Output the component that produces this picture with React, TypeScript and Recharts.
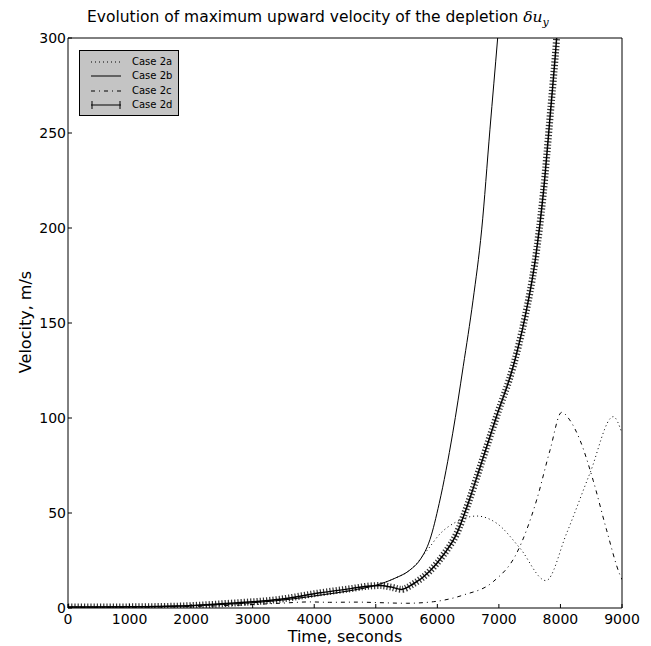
import React from 'react';
import { LineChart, Line, XAxis, YAxis } from 'recharts';

const FONT = '"DejaVu Sans", "Liberation Sans", sans-serif';

const xTicks = [0, 1000, 2000, 3000, 4000, 5000, 6000, 7000, 8000, 9000];
const yTicks = [0, 50, 100, 150, 200, 250, 300];

const seriesNames = ['Case 2a', 'Case 2b', 'Case 2c', 'Case 2d'];

const times2a = [0, 1000, 1800, 2600, 3100, 3650, 4100, 4600, 5014, 5300, 5555, 5650, 5850, 6043, 6313, 6639, 6964, 7342, 7765, 8100, 8480, 8858, 9000];
const vel2a = [0.5, 0.6, 1.0, 2.0, 3.0, 4.8, 6.8, 9.2, 12.1, 15.5, 20, 23, 31, 39, 45.4, 48.4, 44.6, 31.5, 14.4, 39.3, 71, 100.7, 92];

const times2b = [0, 1000, 1800, 2600, 3100, 3650, 4100, 4600, 5014, 5300, 5555, 5718, 5880, 6030, 6250, 6420, 6580, 6720, 6855, 6980, 7010];
const vel2b = [0.5, 0.6, 1.0, 2.0, 3.0, 4.8, 6.8, 9.2, 12.1, 15.5, 20, 25.3, 36, 55, 92, 127, 162, 199, 252, 300, 312];

const times2c = [0, 1000, 2000, 2600, 3444, 3931, 4250, 4700, 5068, 5500, 5935, 6420, 6909, 7288, 7613, 7830, 8020, 8150, 8317, 8533, 8750, 8967, 9000];
const vel2c = [0.3, 0.4, 0.8, 1.3, 2.5, 3.2, 3.0, 3.1, 2.8, 2.5, 3.3, 6.8, 13.9, 28.8, 56.8, 83, 103, 99, 88.4, 67, 41, 17.4, 15];

const times2d = [0, 1000, 1800, 2632, 3444, 4094, 4600, 4906, 5070, 5250, 5420, 5600, 5880, 6100, 6313, 6500, 6693, 6964, 7231, 7424, 7586, 7721, 7830, 7938, 7970];
const vel2d = [0.5, 0.6, 1.0, 2.5, 4.6, 8.0, 10.2, 11.6, 11.8, 11.0, 9.8, 12.5, 19.5, 28, 39, 55, 74, 101, 127, 153, 182, 218, 258, 300, 315];

const toPoints = (ts: number[], vs: number[]) => ts.map((t, i) => ({ t, v: vs[i] }));

const data2a = toPoints(times2a, vel2a);
const data2b = toPoints(times2b, vel2b);
const data2c = toPoints(times2c, vel2c);
const data2d = toPoints(times2d, vel2d);

const tickStyle = { fill: '#000', fontSize: 14, fontFamily: FONT };

function LegendSample({ kind }: { kind: string }) {
  return (
    <svg width={32} height={10} style={{ display: 'block' }}>
      {kind === 'a' && <line x1={1} y1={5} x2={31} y2={5} stroke="#000" strokeWidth={1} strokeDasharray="1 3" />}
      {kind === 'b' && <line x1={1} y1={5} x2={31} y2={5} stroke="#000" strokeWidth={1} />}
      {kind === 'c' && <line x1={1} y1={5} x2={31} y2={5} stroke="#000" strokeWidth={1} strokeDasharray="4 4 1 4" />}
      {kind === 'd' && (
        <g stroke="#000" strokeWidth={1}>
          <line x1={1} y1={5} x2={31} y2={5} />
          <line x1={2} y1={1} x2={2} y2={9} />
          <line x1={30} y1={1} x2={30} y2={9} />
        </g>
      )}
    </svg>
  );
}

export default function App() {
  const kinds = ['a', 'b', 'c', 'd'];
  return (
    <div style={{ position: 'absolute', left: 0, top: 0, width: 651, height: 646, background: '#fff', fontFamily: FONT }}>
      <div style={{ position: 'absolute', left: 87, top: 8, fontSize: 15.5, color: '#000', whiteSpace: 'nowrap' }}>
        Evolution of maximum upward velocity of the depletion{' '}
        <span style={{ fontFamily: '"DejaVu Serif", serif', fontStyle: 'italic' }}>
          δu<sub style={{ fontSize: 11 }}>y</sub>
        </span>
      </div>
      <LineChart width={651} height={646} margin={{ top: 37, right: 28, bottom: 0, left: 0 }}>
        <XAxis
          xAxisId="b"
          type="number"
          dataKey="t"
          domain={[0, 9000]}
          ticks={xTicks}
          interval={0}
          allowDataOverflow
          tickSize={-4}
          tickMargin={10}
          height={38}
          stroke="#000"
          tick={tickStyle}
        />
        <XAxis
          xAxisId="t"
          orientation="top"
          type="number"
          dataKey="t"
          domain={[0, 9000]}
          ticks={xTicks}
          interval={0}
          allowDataOverflow
          tickSize={-4}
          height={1}
          stroke="#000"
          tick={false}
        />
        <YAxis
          yAxisId="l"
          type="number"
          domain={[0, 300]}
          ticks={yTicks}
          interval={0}
          allowDataOverflow
          tickSize={-4}
          tickMargin={6}
          width={68}
          stroke="#000"
          tick={tickStyle}
        />
        <YAxis
          yAxisId="r"
          orientation="right"
          type="number"
          domain={[0, 300]}
          ticks={yTicks}
          interval={0}
          allowDataOverflow
          tickSize={-4}
          width={1}
          stroke="#000"
          tick={false}
        />
        <Line
          xAxisId="b"
          yAxisId="l"
          data={data2d}
          dataKey="v"
          type="monotone"
          stroke="#333"
          strokeWidth={7}
          strokeDasharray="1.2 2"
          dot={false}
          isAnimationActive={false}
          legendType="none"
        />
        <Line xAxisId="b" yAxisId="l" data={data2c} dataKey="v" name={seriesNames[2]} type="monotone" stroke="#000" strokeWidth={1} strokeDasharray="4 4 1 4" dot={false} isAnimationActive={false} />
        <Line xAxisId="b" yAxisId="l" data={data2a} dataKey="v" name={seriesNames[0]} type="monotone" stroke="#000" strokeWidth={1} strokeDasharray="1 3" dot={false} isAnimationActive={false} />
        <Line xAxisId="b" yAxisId="l" data={data2b} dataKey="v" name={seriesNames[1]} type="monotone" stroke="#000" strokeWidth={1} dot={false} isAnimationActive={false} />
        <Line xAxisId="b" yAxisId="l" data={data2d} dataKey="v" name={seriesNames[3]} type="monotone" stroke="#000" strokeWidth={1.5} dot={false} isAnimationActive={false} />
      </LineChart>
      <div style={{ position: 'absolute', left: 245, width: 200, top: 629, height: 16, lineHeight: '16px', textAlign: 'center', fontSize: 16, color: '#000', whiteSpace: 'nowrap' }}>
        Time, seconds
      </div>
      <div style={{ position: 'absolute', left: 25, top: 322, width: 0, height: 0 }}>
        <div style={{ position: 'absolute', transform: 'translate(-50%, -50%) rotate(-90deg)', fontSize: 16, color: '#000', whiteSpace: 'nowrap' }}>
          Velocity, m/s
        </div>
      </div>
      <div style={{ position: 'absolute', left: 79, top: 50, width: 98, height: 64, background: '#c4c4c4', border: '1px solid #000', boxSizing: 'content-box' }}>
        {kinds.map((k, i) => (
          <div key={k} style={{ position: 'absolute', left: 10, top: 5 + i * 14.3, height: 12, display: 'flex', alignItems: 'center' }}>
            <LegendSample kind={k} />
            <span style={{ marginLeft: 10, fontSize: 10, color: '#000', lineHeight: '12px' }}>{seriesNames[i]}</span>
          </div>
        ))}
      </div>
    </div>
  );
}
